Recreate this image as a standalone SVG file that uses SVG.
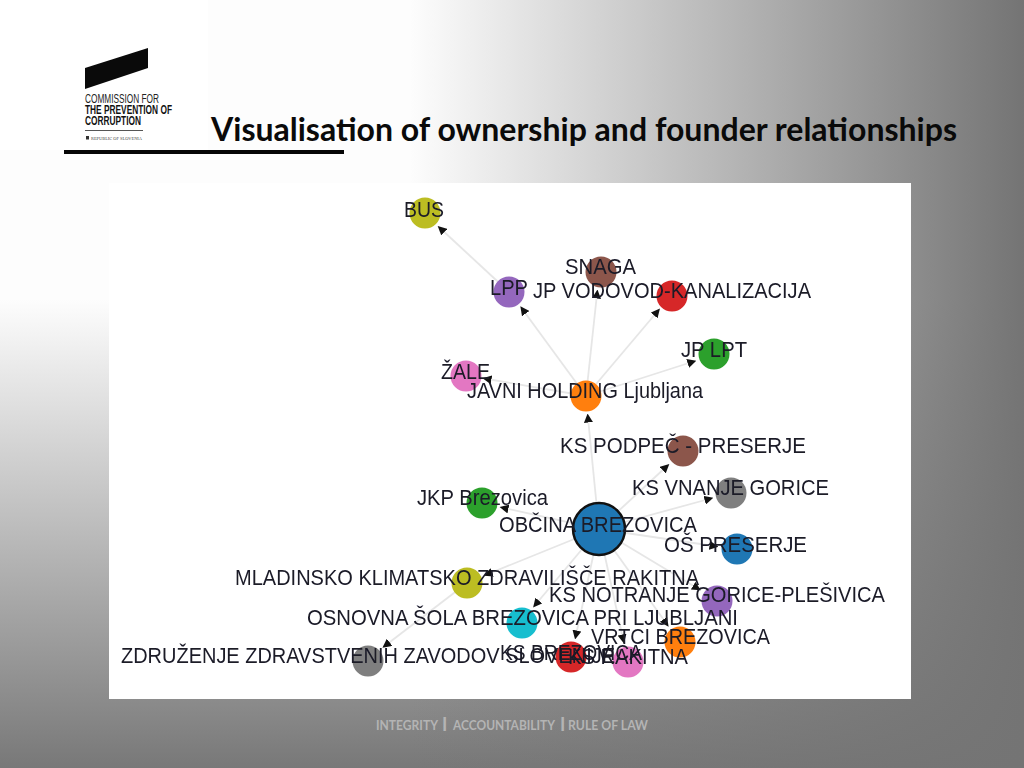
<svg xmlns="http://www.w3.org/2000/svg" width="1024" height="768" viewBox="0 0 1024 768">
<style>
.lbl{font-family:"Liberation Sans",Arial,sans-serif;font-size:22px;fill:#1a1a28;text-anchor:start}
.edge{stroke:#e6e6e6;stroke-width:1.800;fill:none;marker-end:url(#arrow)}
.n{stroke:none}
.title{font-family:Lato,"Liberation Sans",sans-serif;font-weight:700;font-size:32px;fill:#0a0a0a}
.logo{font-family:"Liberation Sans",Arial,sans-serif;font-size:12.500px;fill:#222}
.logob{font-family:"Liberation Sans",Arial,sans-serif;font-size:12.500px;font-weight:700;fill:#111}
.foot{font-family:Lato,"Liberation Sans",sans-serif;font-weight:700;font-size:13px;fill:#b4b4b4}
</style>
<defs>
<linearGradient id="v" x1="0" y1="0" x2="0" y2="768" gradientUnits="userSpaceOnUse">
<stop offset="0" stop-color="#fdfdfd"/><stop offset="0.39" stop-color="#fdfdfd"/><stop offset="1" stop-color="#787878"/>
</linearGradient>
<linearGradient id="h" x1="0" y1="0" x2="1024" y2="0" gradientUnits="userSpaceOnUse">
<stop offset="0" stop-color="#747474" stop-opacity="0"/><stop offset="0.4" stop-color="#747474" stop-opacity="0"/><stop offset="1" stop-color="#747474" stop-opacity="1"/>
</linearGradient>
<marker id="arrow" markerUnits="userSpaceOnUse" markerWidth="9" markerHeight="9" refX="4" refY="4" orient="auto" viewBox="0 0 8 8">
<path d="M0,0L8,4L0,8Z" fill="#111"/>
</marker>
<filter id="soft" x="-5%" y="-20%" width="110%" height="140%"><feGaussianBlur stdDeviation="0.35"/></filter>
</defs>
<rect width="1024" height="768" fill="url(#v)"/>
<rect width="1024" height="768" fill="url(#h)"/>
<rect x="0" y="0" width="208" height="150" fill="#fff"/>
<g id="logo">
<polygon points="85,68 148,48 148,68 85,89" fill="#0a0a0a"/>
<text class="logo" x="85" y="103" textLength="74" lengthAdjust="spacingAndGlyphs">COMMISSION FOR</text>
<text class="logob" x="85" y="114" textLength="87" lengthAdjust="spacingAndGlyphs">THE PREVENTION OF</text>
<text class="logob" x="85" y="124.500" textLength="56" lengthAdjust="spacingAndGlyphs">CORRUPTION</text>
<rect x="85" y="130" width="58" height="1" fill="#555"/>
<rect x="86" y="136" width="3" height="3.500" fill="#333"/>
<text x="91" y="139.500" font-family="Liberation Serif,serif" font-size="5" fill="#444" textLength="51" lengthAdjust="spacingAndGlyphs">REPUBLIC OF SLOVENIA</text>
</g>
<text class="title" x="211" y="141" textLength="746" lengthAdjust="spacingAndGlyphs">Visualisation of ownership and founder relationships</text>
<rect x="64" y="150" width="280" height="4" fill="#050505"/>
<rect x="109" y="183" width="802" height="516" fill="#fff"/>
<g id="connectors">
<line class="edge" x1="509" y1="292" x2="441" y2="229"/>
<line class="edge" x1="586" y1="396" x2="523" y2="310"/>
<line class="edge" x1="586" y1="396" x2="597" y2="294"/>
<line class="edge" x1="586" y1="396" x2="657" y2="312"/>
<line class="edge" x1="586" y1="396" x2="692" y2="362"/>
<line class="edge" x1="586" y1="396" x2="487" y2="379"/>
<line class="edge" x1="599" y1="529" x2="588" y2="418"/>
<line class="edge" x1="599" y1="529" x2="666" y2="467"/>
<line class="edge" x1="599" y1="529" x2="709" y2="499"/>
<line class="edge" x1="599" y1="529" x2="504" y2="508"/>
<line class="edge" x1="599" y1="529" x2="714" y2="546"/>
<line class="edge" x1="599" y1="529" x2="488" y2="574"/>
<line class="edge" x1="467" y1="583" x2="386" y2="645"/>
<line class="edge" x1="599" y1="529" x2="536" y2="604"/>
<line class="edge" x1="599" y1="529" x2="576" y2="635"/>
<line class="edge" x1="599" y1="529" x2="623" y2="639"/>
<line class="edge" x1="599" y1="529" x2="666" y2="623"/>
<line class="edge" x1="599" y1="529" x2="697" y2="588"/>
</g>
<g id="n-bus"><circle class="n" cx="425" cy="213" r="15.500" fill="#bcbd22"/></g>
<g id="n-snaga"><circle class="n" cx="601" cy="272" r="15.500" fill="#8c564b"/></g>
<g id="n-lpp"><circle class="n" cx="509" cy="292" r="15.500" fill="#9467bd"/></g>
<g id="n-vodovod"><circle class="n" cx="672" cy="296" r="15.500" fill="#d62728"/></g>
<g id="n-lpt"><circle class="n" cx="714" cy="354" r="15.500" fill="#2ca02c"/></g>
<g id="n-zale"><circle class="n" cx="466" cy="376" r="15.500" fill="#e377c2"/></g>
<g id="n-javni"><circle class="n" cx="586" cy="396" r="15.500" fill="#ff7f0e"/></g>
<g id="n-podpec"><circle class="n" cx="683" cy="451" r="15.500" fill="#8c564b"/></g>
<g id="n-vnanje"><circle class="n" cx="731" cy="493" r="15.500" fill="#7f7f7f"/></g>
<g id="n-jkp"><circle class="n" cx="482" cy="503" r="15.500" fill="#2ca02c"/></g>
<g id="n-obcina"><circle cx="599" cy="529" r="26" fill="#1f77b4" stroke="#111" stroke-width="2.500"/></g>
<g id="n-os"><circle class="n" cx="737" cy="549" r="15.500" fill="#1f77b4"/></g>
<g id="n-mladinsko"><circle class="n" cx="467" cy="583" r="15.500" fill="#bcbd22"/></g>
<g id="n-notranje"><circle class="n" cx="717" cy="601" r="15.500" fill="#9467bd"/></g>
<g id="n-osnovna"><circle class="n" cx="522" cy="623" r="15.500" fill="#17becf"/></g>
<g id="n-vrtci"><circle class="n" cx="680" cy="642" r="15.500" fill="#ff7f0e"/></g>
<g id="n-brezovica"><circle class="n" cx="571" cy="657" r="15.500" fill="#d62728"/></g>
<g id="n-rakitna"><circle class="n" cx="628" cy="662" r="15.500" fill="#e377c2"/></g>
<g id="n-zdruzenje"><circle class="n" cx="368" cy="661" r="15.500" fill="#7f7f7f"/></g>
<g id="labels" filter="url(#soft)">
<text class="lbl" x="404" y="216.500" textLength="40" lengthAdjust="spacingAndGlyphs">BUS</text>
<text class="lbl" x="565" y="274" textLength="71" lengthAdjust="spacingAndGlyphs">SNAGA</text>
<text class="lbl" x="490" y="295" textLength="38" lengthAdjust="spacingAndGlyphs">LPP</text>
<text class="lbl" x="533" y="297.500" textLength="278" lengthAdjust="spacingAndGlyphs">JP VODOVOD-KANALIZACIJA</text>
<text class="lbl" x="681" y="357" textLength="66" lengthAdjust="spacingAndGlyphs">JP LPT</text>
<text class="lbl" x="441" y="379" textLength="49" lengthAdjust="spacingAndGlyphs">ŽALE</text>
<text class="lbl" x="467" y="398" textLength="236" lengthAdjust="spacingAndGlyphs">JAVNI HOLDING Ljubljana</text>
<text class="lbl" x="560" y="453" textLength="246" lengthAdjust="spacingAndGlyphs">KS PODPEČ - PRESERJE</text>
<text class="lbl" x="632" y="494.500" textLength="197" lengthAdjust="spacingAndGlyphs">KS VNANJE GORICE</text>
<text class="lbl" x="417" y="505" textLength="131" lengthAdjust="spacingAndGlyphs">JKP Brezovica</text>
<text class="lbl" x="499" y="532" textLength="198" lengthAdjust="spacingAndGlyphs">OBČINA BREZOVICA</text>
<text class="lbl" x="664" y="552" textLength="143" lengthAdjust="spacingAndGlyphs">OŠ PRESERJE</text>
<text class="lbl" x="235" y="585" textLength="464" lengthAdjust="spacingAndGlyphs">MLADINSKO KLIMATSKO ZDRAVILIŠČE RAKITNA</text>
<text class="lbl" x="549" y="602" textLength="336" lengthAdjust="spacingAndGlyphs">KS NOTRANJE GORICE-PLEŠIVICA</text>
<text class="lbl" x="307" y="625" textLength="431" lengthAdjust="spacingAndGlyphs">OSNOVNA ŠOLA BREZOVICA PRI LJUBLJANI</text>
<text class="lbl" x="591" y="644" textLength="179" lengthAdjust="spacingAndGlyphs">VRTCI BREZOVICA</text>
<text class="lbl" x="500" y="659.500" textLength="142" lengthAdjust="spacingAndGlyphs">KS BREZOVICA</text>
<text class="lbl" x="568" y="664" textLength="120" lengthAdjust="spacingAndGlyphs">KS RAKITNA</text>
<text class="lbl" x="121" y="663" textLength="494" lengthAdjust="spacingAndGlyphs">ZDRUŽENJE ZDRAVSTVENIH ZAVODOV SLOVENIJE</text>
</g>
<g id="footer">
<text class="foot" x="376" y="730" textLength="62" lengthAdjust="spacingAndGlyphs">INTEGRITY</text>
<text class="foot" x="442" y="731" style="font-size:18px">I</text>
<text class="foot" x="453" y="730" textLength="102" lengthAdjust="spacingAndGlyphs">ACCOUNTABILITY</text>
<text class="foot" x="560" y="731" style="font-size:18px">I</text>
<text class="foot" x="568" y="730" textLength="80" lengthAdjust="spacingAndGlyphs">RULE OF LAW</text>
</g>
</svg>
